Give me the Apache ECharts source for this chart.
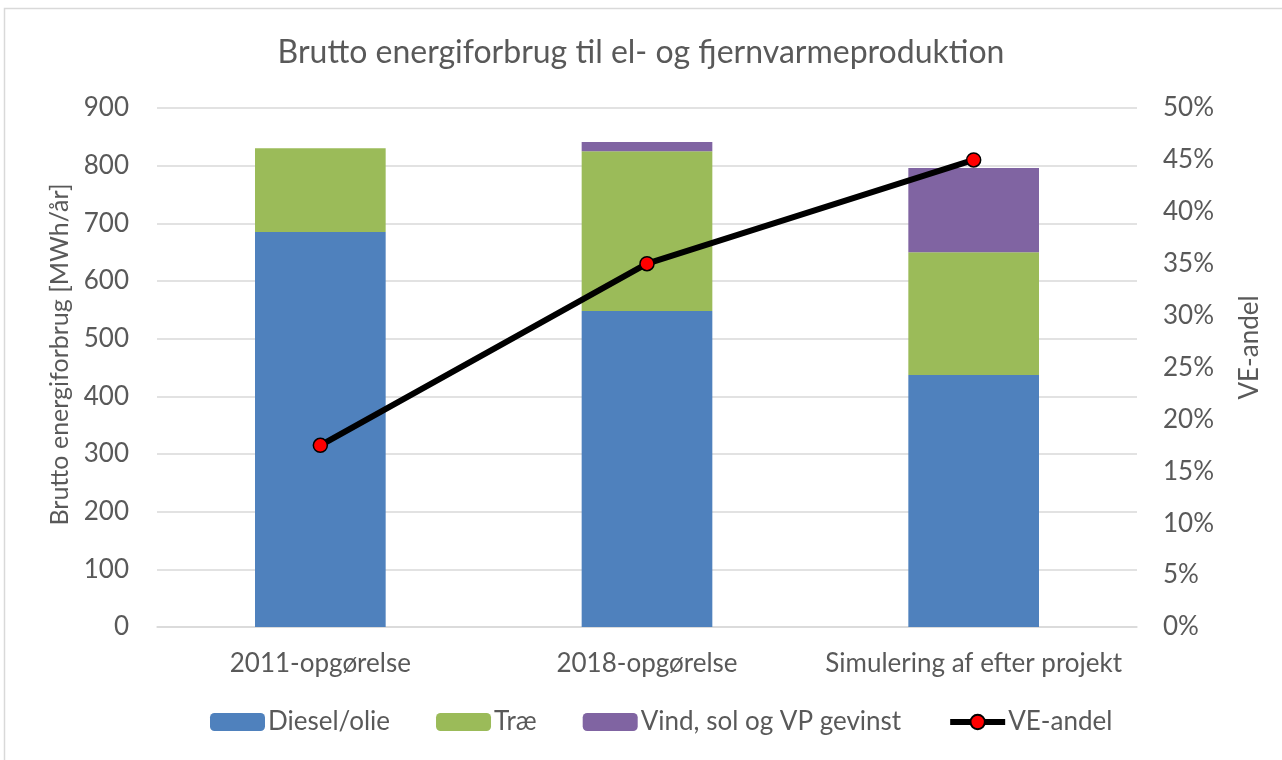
<!DOCTYPE html>
<html>
<head>
<meta charset="utf-8">
<script src="https://cdn.jsdelivr.net/npm/echarts@6/dist/echarts.min.js"></script>
<style>
  html, body { margin: 0; padding: 0; background: #fff; }
  #main { width: 1282px; height: 760px; }
</style>
</head>
<body>
<div id="main"></div>
<script>
var categories = ['2011-opgørelse', '2018-opgørelse', 'Simulering af efter projekt'];
var diesel = [685, 548, 437];
var trae = [145, 277, 213];
var vind = [0, 16, 146];
var veAndel = [17.5, 35, 45];
var leftTicks = { min: 0, max: 900, interval: 100 };
var rightTicks = { min: 0, max: 50, interval: 5 };

var font = 'Lato';
var txt = '#595959';

var myChart = echarts.init(document.getElementById('main'));
var option = {
    backgroundColor: '#fff',
    animation: false,
    textStyle: { fontFamily: font, color: txt },
    title: {
        text: 'Brutto energiforbrug til el- og fjernvarmeproduktion',
        left: 'center',
        top: 32,
        textStyle: { fontFamily: font, fontSize: 32, fontWeight: 'normal', color: txt }
    },
    graphic: [{
        type: 'rect',
        shape: { x: 4.5, y: 8.5, width: 1290, height: 760 },
        style: { fill: 'none', stroke: '#d9d9d9', lineWidth: 1.5 },
        silent: true
    }],
    grid: { left: 157, right: 145, top: 108, bottom: 133 },
    legend: {
        bottom: 20,
        left: 205,
        itemWidth: 55,
        itemHeight: 18,
        itemGap: 46,
        textStyle: { fontFamily: font, fontSize: 26, color: txt, padding: [0, 0, 0, -2] },
        data: [
            { name: 'Diesel/olie' },
            { name: 'Træ' },
            { name: 'Vind, sol og VP gevinst' },
            { name: 'VE-andel', lineStyle: { width: 6, color: '#000' } }
        ]
    },
    xAxis: {
        type: 'category',
        data: categories,
        axisLine: { lineStyle: { color: '#d9d9d9', width: 1.5 } },
        axisTick: { show: false },
        axisLabel: { fontFamily: font, fontSize: 26, color: txt, margin: 24, interval: 0 }
    },
    yAxis: [{
        type: 'value',
        min: leftTicks.min,
        max: leftTicks.max,
        interval: leftTicks.interval,
        name: 'Brutto energiforbrug [MWh/år]',
        nameLocation: 'middle',
        nameGap: 78,
        nameRotate: 90,
        nameTextStyle: { fontFamily: font, fontSize: 25, color: txt, padding: [0, 0, 0, 26] },
        axisLine: { show: false },
        axisTick: { show: false },
        axisLabel: { fontFamily: font, fontSize: 26, color: txt, margin: 28 },
        splitLine: { lineStyle: { color: '#d9d9d9', width: 1.5 } }
    }, {
        type: 'value',
        min: rightTicks.min,
        max: rightTicks.max,
        interval: rightTicks.interval,
        name: 'VE-andel',
        nameLocation: 'middle',
        nameGap: 100,
        nameRotate: 90,
        nameTextStyle: { fontFamily: font, fontSize: 26, color: txt, padding: [0, 0, 0, 40] },
        axisLine: { show: false },
        axisTick: { show: false },
        axisLabel: { fontFamily: font, fontSize: 26, color: txt, margin: 26, formatter: '{value}%' },
        splitLine: { show: false }
    }],
    series: [
        {
            name: 'Diesel/olie', type: 'bar', stack: 'total', barWidth: '40%',
            itemStyle: { color: '#4f81bd' }, data: diesel
        },
        {
            name: 'Træ', type: 'bar', stack: 'total',
            itemStyle: { color: '#9bbb59' }, data: trae
        },
        {
            name: 'Vind, sol og VP gevinst', type: 'bar', stack: 'total',
            itemStyle: { color: '#8064a2' }, data: vind
        },
        {
            name: 'VE-andel', type: 'line', yAxisIndex: 1,
            symbol: 'circle', symbolSize: 14,
            lineStyle: { color: '#000', width: 6 },
            itemStyle: { color: '#ff0000', borderColor: '#000', borderWidth: 1.5 },
            data: veAndel, z: 10
        }
    ]
};
myChart.setOption(option);
</script>
</body>
</html>
